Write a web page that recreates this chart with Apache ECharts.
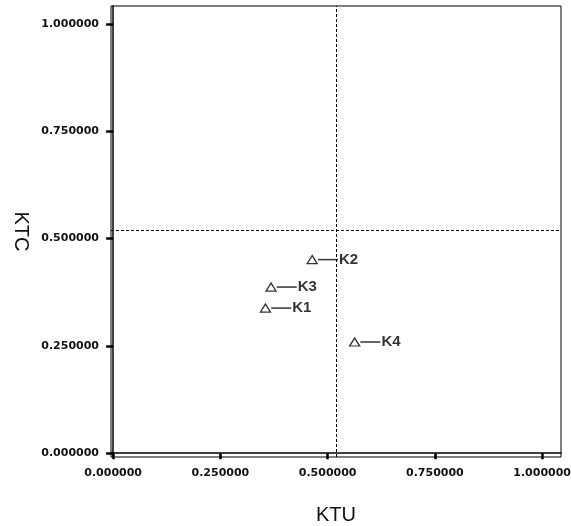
<!DOCTYPE html>
<html>
<head>
<meta charset="utf-8">
<script src="https://cdn.jsdelivr.net/npm/echarts@6/dist/echarts.min.js"></script>
<style>html,body{margin:0;padding:0;background:#fff;}#c{width:571px;height:526px;}</style>
</head>
<body>
<div id="c"></div>
<script>
const names = ['K1', 'K2', 'K3', 'K4'];
const ktu = [0.355, 0.464, 0.368, 0.563];
const ktc = [0.338, 0.451, 0.387, 0.259];
const tickValues = [0, 0.25, 0.5, 0.75, 1.0];
const refKTU = 0.518;
const refKTC = 0.518;

const data = names.map((n, i) => [ktu[i], ktc[i], n]);
const fmt = v => Number(v).toFixed(6);
const tickFont = { fontFamily: 'DejaVu Sans', fontWeight: 'bold', fontSize: 11, color: '#111' };

const chart = echarts.init(document.getElementById('c'), null, { renderer: 'canvas' });
chart.setOption({
  animation: false,
  backgroundColor: '#fff',
  grid: { left: 111, top: 6, right: 10, bottom: 69, outerBoundsMode: 'none', containLabel: false, show: true, borderColor: '#000', borderWidth: 1, backgroundColor: 'transparent' },
  xAxis: {
    type: 'value', min: -0.005, max: 1.044,
    name: 'KTU', nameLocation: 'middle', nameGap: 48,
    nameTextStyle: { fontFamily: 'Liberation Sans', fontSize: 20, color: '#111' },
    axisLine: { show: true, lineStyle: { color: '#000', width: 1.5 } },
    axisTick: { show: true, customValues: tickValues, length: 6, lineStyle: { color: '#000', width: 2.5 } },
    axisLabel: Object.assign({ customValues: tickValues, margin: 11, formatter: fmt }, tickFont),
    splitLine: { show: false }
  },
  yAxis: {
    type: 'value', min: -0.009, max: 1.042,
    name: 'KTC', nameLocation: 'middle', nameGap: 77, nameRotate: -90,
    nameTextStyle: { fontFamily: 'Liberation Sans', fontSize: 20, color: '#111' },
    axisLine: { show: true, lineStyle: { color: '#000', width: 1.5 } },
    axisTick: { show: true, customValues: tickValues, length: 7, lineStyle: { color: '#000', width: 2.5 } },
    axisLabel: Object.assign({ customValues: tickValues, margin: 12, formatter: fmt }, tickFont),
    splitLine: { show: false }
  },
  series: [{
    type: 'scatter',
    data: data,
    symbol: 'triangle',
    symbolSize: [10, 8],
    itemStyle: { color: '#fff', borderColor: '#000', borderWidth: 1.3 },
    label: {
      show: true, position: 'right', distance: 0,
      formatter: p => '{ln|}{t|' + p.data[2] + '}',
      rich: {
        ln: { width: 20, height: 1.5, backgroundColor: '#000', verticalAlign: 'middle' },
        t: { fontFamily: 'Liberation Sans', fontWeight: 'bold', fontSize: 15, color: '#000', padding: [0, 0, 0, 1], verticalAlign: 'middle' }
      }
    },
    markLine: {
      silent: true, symbol: 'none', animation: false,
      label: { show: false },
      lineStyle: { color: '#000', type: [3, 2], width: 1 },
      data: [{ xAxis: refKTU }, { yAxis: refKTC }]
    }
  }]
});
</script>
</body>
</html>
